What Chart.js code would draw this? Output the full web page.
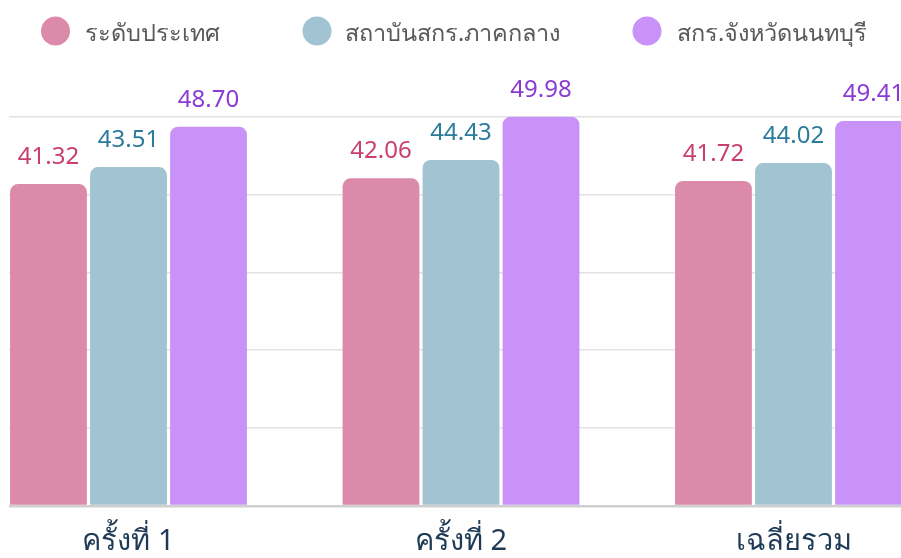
<!DOCTYPE html>
<html>
<head>
<meta charset="utf-8">
<script src="https://cdn.jsdelivr.net/npm/chart.js@4/dist/chart.umd.min.js"></script>
<style>
  html, body { margin: 0; padding: 0; background: #ffffff; width: 901px; height: 558px; overflow: hidden; }
  #clip { position: absolute; left: 9px; top: 0; width: 892px; height: 558px; overflow: hidden; }
  #wrap { position: absolute; left: -69px; top: 0; width: 1060px; height: 558px; }
</style>
</head>
<body>
<div id="clip"><div id="wrap"><canvas id="c"></canvas></div></div>
<script>
const categories = ['ครั้งที่ 1', 'ครั้งที่ 2', 'เฉลี่ยรวม'];
const seriesNames = ['ระดับประเทศ', 'สถาบันสกร.ภาคกลาง', 'สกร.จังหวัดนนทบุรี'];
const national = [41.32, 42.06, 41.72];
const central = [43.51, 44.43, 44.02];
const nonthaburi = [48.70, 49.98, 49.41];
const yTicks = [0, 10, 20, 30, 40, 50];

const barColors = ['#db8aa9', '#a1c3d2', '#c992f9'];
const labelColors = ['#c9406f', '#2b7b9b', '#8b3ad4'];
const FONT = '"Noto Sans", "Open Sans", sans-serif';

const valueLabels = {
  id: 'valueLabels',
  afterDatasetsDraw(chart) {
    const ctx = chart.ctx;
    ctx.save();
    ctx.font = '24px ' + FONT;
    ctx.textAlign = 'center';
    ctx.textBaseline = 'alphabetic';
    chart.data.datasets.forEach((ds, i) => {
      const meta = chart.getDatasetMeta(i);
      ctx.fillStyle = labelColors[i];
      meta.data.forEach((el, j) => {
        ctx.fillText(ds.data[j].toFixed(2), el.x, el.y - 20);
      });
    });
    ctx.restore();
  }
};

const manualLegend = {
  id: 'manualLegend',
  afterDraw(chart) {
    const ctx = chart.ctx;
    const off = 60; // canvas starts 60px left of page
    const circleX = [55.5, 317, 647];
    const textX = [85, 345, 677];
    ctx.save();
    ctx.font = '23.5px ' + FONT;
    ctx.textAlign = 'left';
    ctx.textBaseline = 'alphabetic';
    chart.data.datasets.forEach((ds, i) => {
      ctx.fillStyle = barColors[i];
      ctx.beginPath();
      ctx.arc(circleX[i] + off, 31, 14.5, 0, Math.PI * 2);
      ctx.fill();
      ctx.fillStyle = '#595959';
      ctx.fillText(ds.label, textX[i] + off, 41);
    });
    ctx.restore();
  }
};

new Chart(document.getElementById('c'), {
  type: 'bar',
  data: {
    labels: categories,
    datasets: [
      { label: seriesNames[0], data: national, backgroundColor: barColors[0] },
      { label: seriesNames[1], data: central, backgroundColor: barColors[1] },
      { label: seriesNames[2], data: nonthaburi, backgroundColor: barColors[2] }
    ]
  },
  options: {
    responsive: true,
    maintainAspectRatio: false,
    animation: false,
    devicePixelRatio: 1,
    layout: { padding: { left: 22.25, right: 40.25, top: 116.5, bottom: 0 } },
    datasets: {
      bar: {
        barPercentage: 0.96,
        categoryPercentage: 0.722,
        borderRadius: { topLeft: 8, topRight: 8, bottomLeft: 0, bottomRight: 0 },
        borderSkipped: 'bottom',
        borderWidth: 0
      }
    },
    plugins: {
      legend: { display: false },
      tooltip: { enabled: false }
    },
    scales: {
      x: {
        grid: { display: false, drawTicks: false },
        border: { display: false },
        ticks: {
          color: '#1f3a56',
          font: { size: 29, family: FONT },
          padding: 18
        },
        afterFit(s) { s.height = 52; }
      },
      y: {
        min: yTicks[0],
        max: yTicks[yTicks.length - 1],
        afterBuildTicks(s) { s.ticks = yTicks.map(v => ({ value: v })); },
        ticks: { display: false },
        border: { display: false },
        grid: {
          drawTicks: false,
          color: ctx => ctx.tick && ctx.tick.value === 0 ? '#cfcfcf' : '#e2e2e2',
          lineWidth: ctx => ctx.tick && ctx.tick.value === 0 ? 2.5 : 1.5
        },
        afterFit(s) { s.width = 0; }
      }
    }
  },
  plugins: [valueLabels, manualLegend]
});
</script>
</body>
</html>
